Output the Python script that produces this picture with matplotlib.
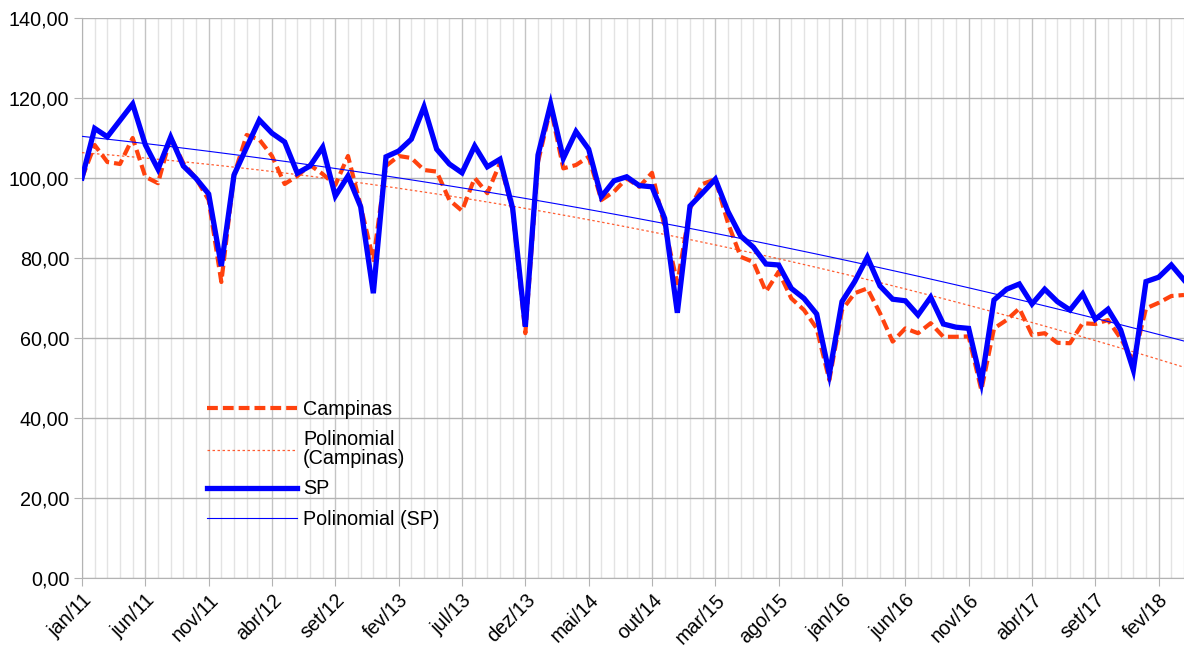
import numpy as np
import matplotlib
matplotlib.use('Agg')
import matplotlib.pyplot as plt
from matplotlib.ticker import MultipleLocator, FuncFormatter

# monthly index values, jan/11 .. abr/18
campinas = [100, 108.25, 104, 103.5, 110, 100.3, 98.7, 110.3, 103.7, 99.9, 94.5, 74,
            100.75, 110.75, 109.6, 105.5, 98.5, 100.5, 103.25, 101, 98.25, 105.5, 93, 79.5,
            103, 105.5, 105, 102, 101.6, 94.5, 91.8, 100, 96.2, 103.7, 92, 61.2,
            104, 117.5, 102.4, 103.25, 105.3, 94.5, 96.6, 99.9, 97.8, 101.3, 87.8, 73.7,
            92.4, 98.5, 99.7, 88.7, 80.3, 79, 71.6, 76.6, 69.9, 67, 62.4, 49.5,
            67, 71.2, 72.4, 66.2, 59.1, 62.4, 61.2, 63.7, 60.3, 60.3, 60.4, 47,
            62.4, 64.5, 67.4, 60.75, 61.2, 58.8, 58.7, 63.7, 63.5, 64.5, 59.9, 54.5,
            67.4, 68.8, 70.5, 70.75]
sp = [100, 112.4, 110.3, 114.4, 118.5, 108.3, 102.2, 110.2, 103, 99.9, 96, 78,
      100.75, 107.7, 114.5, 111.2, 109, 101.2, 103, 107.7, 95.5, 100.5, 92.8, 71.2,
      105.3, 106.75, 109.7, 117.8, 107.2, 103.5, 101.3, 108, 102.8, 104.7, 92.4, 62.8,
      105.75, 118.5, 104.9, 111.6, 107.2, 95.3, 99.3, 100.3, 98.1, 97.8, 89.9, 66.3,
      93, 96.3, 99.7, 91.6, 85.5, 82.7, 78.5, 78.25, 72.4, 69.9, 66, 51,
      69.1, 74.1, 80.2, 73, 69.7, 69.3, 65.75, 70.2, 63.5, 62.7, 62.4, 48.9,
      69.5, 72.2, 73.5, 68.5, 72.2, 69.1, 67, 71, 64.7, 67.2, 62, 52,
      74.1, 75.2, 78.25, 74.5]
month_names = ['jan', 'fev', 'mar', 'abr', 'mai', 'jun',
               'jul', 'ago', 'set', 'out', 'nov', 'dez']
start_year = 11

plt.rcParams['font.family'] = ['Liberation Sans', 'DejaVu Sans']

x = np.arange(len(sp))
labels = ['%s/%02d' % (month_names[i % 12], start_year + i // 12) for i in x]

# polynomial (order 2) trend lines
trend_c = np.polyval(np.polyfit(x, campinas, 2), x)
trend_s = np.polyval(np.polyfit(x, sp, 2), x)

fig = plt.figure(figsize=(11.84, 6.48), dpi=100)
ax = fig.add_axes([82 / 1184, 70 / 648, 1102 / 1184, 560 / 648])

ax.plot(x, campinas, color='#ff420e', lw=3.0, dashes=(2.6, 1.2), label='Campinas', zorder=3)
ax.plot(x, trend_c, color='#ff420e', lw=0.9, dashes=(2, 2), alpha=0.85,
        label='Polinomial\n(Campinas)', zorder=4)
ax.plot(x, sp, color='#0000ff', lw=3.8, label='SP', zorder=5, solid_joinstyle='miter')
ax.plot(x, trend_s, color='#0000ff', lw=0.8, label='Polinomial (SP)', zorder=6)

ax.set_xlim(0, len(x) - 1)
ax.set_ylim(0, 140)

ax.yaxis.set_major_locator(MultipleLocator(20))
ax.yaxis.set_major_formatter(FuncFormatter(lambda v, p: ('%.2f' % v).replace('.', ',')))
ax.set_xticks(x[::5])
ax.set_xticklabels(labels[::5], rotation=45, ha='right', va='top', rotation_mode='anchor')
ax.set_xticks(x, minor=True)

ax.grid(axis='y', color='#b3b3b3', lw=1.0, zorder=0)
ax.grid(axis='x', which='major', color='#c4c4c4', lw=1.0, zorder=0)
ax.grid(axis='x', which='minor', color='#e3e3e3', lw=1.0, zorder=0)
ax.set_axisbelow(True)

for s in ['top', 'right']:
    ax.spines[s].set_visible(False)
for s in ['left', 'bottom']:
    ax.spines[s].set_color('#b3b3b3')
ax.tick_params(which='major', length=6, color='#b3b3b3', labelsize=14.2, pad=3)
ax.tick_params(which='minor', length=0)

leg = ax.legend(loc='upper left', bbox_to_anchor=(0.113, 0.318), frameon=False,
                fontsize=14.2, handlelength=4.6, handletextpad=0.3, labelspacing=0.58,
                borderpad=0, borderaxespad=0)
for t in leg.get_texts():
    t.set_linespacing(0.98)

fig.savefig('out.png', dpi=100)
